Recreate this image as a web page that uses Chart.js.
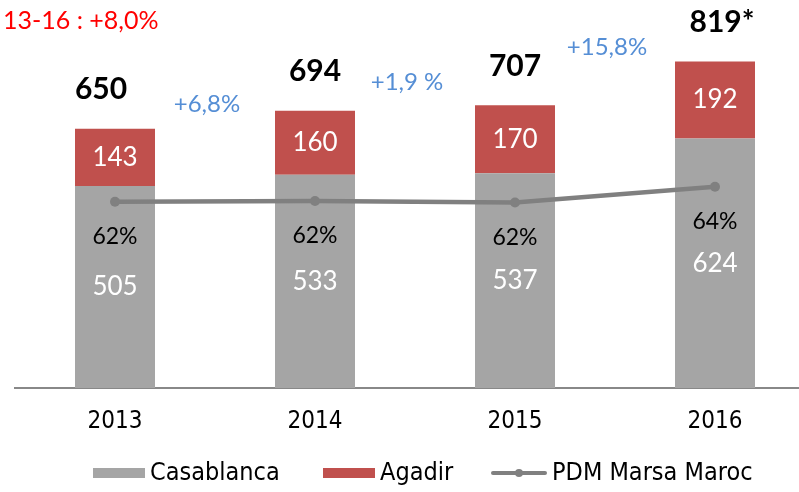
<!DOCTYPE html>
<html lang="fr">
<head>
<meta charset="UTF-8">
<title>Trafic PDM Marsa Maroc</title>
<script src="https://cdn.jsdelivr.net/npm/chart.js"></script>
<style>
  html, body { margin: 0; padding: 0; background: #fff; overflow: hidden; }
  #wrap { width: 799px; height: 492px; overflow: hidden; }
</style>
</head>
<body>
<div id="wrap"><canvas id="trafficChart" width="820" height="492"></canvas></div>
<script>
// values
const years = ['2013', '2014', '2015', '2016'];
const casablanca = [505, 533, 537, 624];
const agadir = [143, 160, 170, 192];
const totals = ['650', '694', '707', '819*'];
const marketShare = [62.0, 62.1, 61.9, 64.0];
const shareLabels = ['62%', '62%', '62%', '64%'];
const growthLabels = ['+6,8%', '+1,9 %', '+15,8%'];
const cagrLabel = '13-16 : +8,0%';

// where the growth labels sit on the value axis, and small nudges for the totals
const growthAnchors = [710, 765, 852];
const totalNudge = [-14, 0, 0, 7];

const GREY = '#a5a5a5';
const RED = '#c0504d';
const LINE = '#808080';
const AXIS_FONT = '"DejaVu Sans Condensed", "DejaVu Sans", sans-serif';

// data labels, growth notes and the hand drawn legend
const labelsPlugin = {
    id: 'labelsPlugin',
    afterDatasetsDraw(chart) {
        const ctx = chart.ctx;
        const yAxis = chart.scales.y;
        const casaMeta = chart.getDatasetMeta(0);
        const agaMeta = chart.getDatasetMeta(1);
        const lineMeta = chart.getDatasetMeta(2);

        ctx.save();
        ctx.textAlign = 'center';
        ctx.textBaseline = 'middle';

        casaMeta.data.forEach((bar, i) => {
            const top = agaMeta.data[i];
            const pt = lineMeta.data[i];

            ctx.font = '26px Lato';
            ctx.fillStyle = '#ffffff';
            ctx.fillText(casablanca[i], bar.x, (bar.y + bar.base) / 2);
            ctx.fillText(agadir[i], top.x, (top.y + top.base) / 2);

            ctx.fillStyle = '#000000';
            ctx.font = 'bold 30px Lato';
            ctx.fillText(totals[i], top.x + totalNudge[i], top.y - 39);

            ctx.font = '23px Lato';
            ctx.fillText(shareLabels[i], pt.x, pt.y + 35);
        });

        // growth between years
        ctx.font = '24px Lato';
        ctx.fillStyle = '#558ed5';
        growthLabels.forEach((txt, i) => {
            const x = (casaMeta.data[i].x + casaMeta.data[i + 1].x) / 2 - 8;
            ctx.fillText(txt, x, yAxis.getPixelForValue(growthAnchors[i]));
        });

        ctx.textAlign = 'left';
        ctx.font = '25px Lato';
        ctx.fillStyle = '#ff0000';
        ctx.fillText(cagrLabel, 3, 21);

        // legend
        const ds = chart.data.datasets;
        const ly = 473;
        ctx.font = '25px ' + AXIS_FONT;
        ctx.fillStyle = ds[0].backgroundColor;
        ctx.fillRect(93, ly - 5, 52, 10);
        ctx.fillStyle = '#000000';
        ctx.fillText(ds[0].label, 150, ly);

        ctx.fillStyle = ds[1].backgroundColor;
        ctx.fillRect(323, ly - 5, 52, 10);
        ctx.fillStyle = '#000000';
        ctx.fillText(ds[1].label, 380, ly);

        ctx.strokeStyle = ds[2].borderColor;
        ctx.lineWidth = 4;
        ctx.lineCap = 'round';
        ctx.beginPath();
        ctx.moveTo(493, ly);
        ctx.lineTo(545, ly);
        ctx.stroke();
        ctx.fillStyle = ds[2].borderColor;
        ctx.beginPath();
        ctx.arc(519, ly, 4, 0, Math.PI * 2);
        ctx.fill();
        ctx.fillStyle = '#000000';
        ctx.fillText(ds[2].label, 552, ly);

        ctx.restore();
    }
};

const ctx = document.getElementById('trafficChart').getContext('2d');
new Chart(ctx, {
    type: 'bar',
    data: {
        labels: years,
        datasets: [{
            label: 'Casablanca',
            data: casablanca,
            backgroundColor: GREY,
            stack: 'ports',
            order: 1,
            barPercentage: 0.4,
            categoryPercentage: 1
        }, {
            label: 'Agadir',
            data: agadir,
            backgroundColor: RED,
            stack: 'ports',
            order: 1,
            barPercentage: 0.4,
            categoryPercentage: 1
        }, {
            type: 'line',
            label: 'PDM Marsa Maroc',
            data: marketShare,
            yAxisID: 'y2',
            borderColor: LINE,
            backgroundColor: LINE,
            borderWidth: 4.5,
            pointRadius: 5,
            pointBackgroundColor: LINE,
            pointBorderWidth: 0,
            tension: 0,
            order: 0
        }]
    },
    options: {
        responsive: false,
        animation: false,
        layout: { padding: { left: 15, right: 3, top: 8, bottom: 0 } },
        plugins: {
            legend: { display: false },
            tooltip: { enabled: false }
        },
        scales: {
            x: {
                stacked: true,
                offset: true,
                grid: { display: false, drawTicks: false },
                border: { display: true, color: '#888888', width: 2 },
                ticks: {
                    color: '#000000',
                    padding: 19,
                    font: { family: AXIS_FONT, size: 24 }
                },
                afterFit: (scale) => { scale.height = 104; }
            },
            y: {
                stacked: true,
                display: false,
                min: 0,
                max: 950
            },
            y2: {
                display: false,
                min: 37.2,
                max: 87.8
            }
        }
    },
    plugins: [labelsPlugin]
});
</script>
</body>
</html>
